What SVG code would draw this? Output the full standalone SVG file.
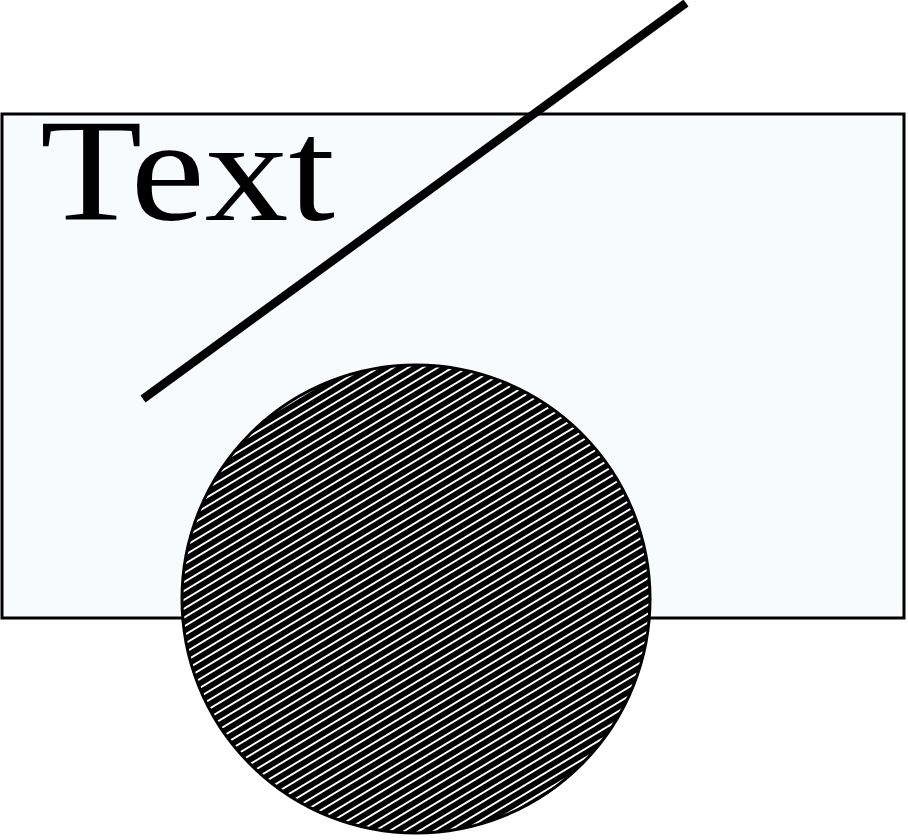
<svg xmlns="http://www.w3.org/2000/svg" width="908" height="840" viewBox="0 0 908 840">
  <style>
    .box { fill: #f8fbfc; stroke: #000; stroke-width: 3; }
    .label { font-family: "Liberation Serif", "DejaVu Serif", serif; font-size: 146px; fill: #000; }
    .stroke { stroke: #000; stroke-width: 8.5; fill: none; }
    .disc { fill: url(#hatch); stroke: #000; stroke-width: 3; }
  </style>
  <defs>
    <pattern id="hatch" width="7.6" height="7.6" patternUnits="userSpaceOnUse" patternTransform="rotate(-31)">
      <rect width="7.6" height="7.6" fill="#000"/>
      <rect y="0" width="7.6" height="2" fill="#fff" shape-rendering="crispEdges"/>
    </pattern>
  </defs>
  <rect width="908" height="840" fill="#fff"/>
  <g id="rectangle">
    <rect class="box" x="2" y="114" width="902" height="504"/>
  </g>
  <g id="circle">
    <circle class="disc" cx="416" cy="599" r="234"/>
  </g>
  <g id="text">
    <text class="label" x="40" y="220" textLength="295" lengthAdjust="spacingAndGlyphs">Text</text>
  </g>
  <g id="connectors">
    <line class="stroke" x1="143" y1="399" x2="686" y2="3"/>
  </g>
</svg>
